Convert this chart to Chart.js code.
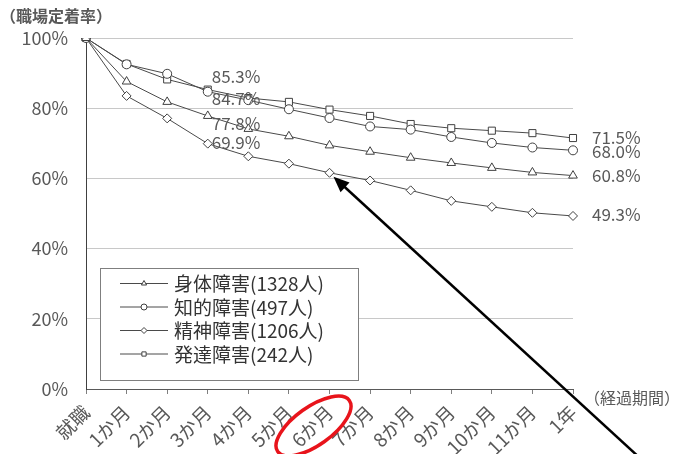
<!DOCTYPE html>
<html>
<head>
<meta charset="utf-8">
<script src="https://cdn.jsdelivr.net/npm/chart.js@4"></script>
<style>
    html, body { margin: 0; padding: 0; background: #fff; }
    #wrap { width: 681px; height: 454px; }
</style>
</head>
<body>
<div id="wrap"><canvas id="retentionChart" width="681" height="454"></canvas></div>
<script>
const periods = ['就職', '1か月', '2か月', '3か月', '4か月', '5か月', '6か月', '7か月', '8か月', '9か月', '10か月', '11か月', '1年'];
const seriesNames = ['身体障害(1328人)', '知的障害(497人)', '精神障害(1206人)', '発達障害(242人)'];
const physical = [100, 87.6, 81.8, 77.8, 74.1, 72.0, 69.4, 67.6, 65.9, 64.4, 63.0, 61.7, 60.8];
const intellectual = [100, 92.5, 89.8, 84.7, 82.3, 79.7, 77.2, 74.8, 73.9, 71.8, 70.1, 68.8, 68.0];
const mental = [100, 83.5, 77.1, 69.9, 66.3, 64.2, 61.6, 59.4, 56.6, 53.6, 51.9, 50.2, 49.3];
const developmental = [100, 92.6, 88.2, 85.3, 82.9, 81.8, 79.6, 77.8, 75.5, 74.3, 73.6, 72.9, 71.5];
const yTicks = [0, 20, 40, 60, 80, 100];
const threeMonthLabels = ['85.3%', '84.7%', '77.8%', '69.9%'];
const yearEndLabels = ['60.8%', '68.0%', '49.3%', '71.5%'];

const textColor = '#595959';
const lineColor = '#4a4a4a';
const jpFont = '"Noto Sans CJK JP", "Noto Sans", sans-serif';

const makeSet = (label, data, style, radius) => ({
    label,
    data,
    borderColor: lineColor,
    borderWidth: 1,
    pointStyle: style,
    pointRadius: radius,
    pointBackgroundColor: '#ffffff',
    pointBorderColor: '#404040',
    pointBorderWidth: 1,
    tension: 0,
});

const datasets = [
    makeSet(seriesNames[0], physical, 'triangle', 5),
    makeSet(seriesNames[1], intellectual, 'circle', 4.5),
    makeSet(seriesNames[2], mental, 'rectRot', 4.5),
    makeSet(seriesNames[3], developmental, 'rect', 5),
];

// labels, legend box, arrow and ellipse drawn on top of the plot
const overlay = {
    id: 'overlay',
    afterDatasetsDraw(chart) {
        const ctx = chart.ctx;
        const xs = chart.scales.x;
        const ys = chart.scales.y;
        const area = chart.chartArea;
        ctx.save();

        // axis titles
        ctx.fillStyle = '#595959';
        ctx.font = 'bold 16px ' + jpFont;
        ctx.textBaseline = 'middle';
        ctx.textAlign = 'left';
        ctx.fillText('（職場定着率）', 0, 16);
        ctx.font = '16px ' + jpFont;
        ctx.fillStyle = textColor;
        ctx.fillText('（経過期間）', 584, 398);

        // 3 month labels
        ctx.font = '17px ' + jpFont;
        ctx.fillStyle = textColor;
        const x3 = xs.getPixelForValue(3) + 4;
        const midOffsets = [-13, 7, 8, -1];
        const midValues = [developmental[3], intellectual[3], physical[3], mental[3]];
        threeMonthLabels.forEach((txt, i) => {
            ctx.fillText(txt, x3, ys.getPixelForValue(midValues[i]) + midOffsets[i]);
        });

        // 1 year labels
        const x12 = xs.getPixelForValue(12) + 19;
        const endValues = [physical[12], intellectual[12], mental[12], developmental[12]];
        const endOffsets = [0, 1, -1, 0];
        yearEndLabels.forEach((txt, i) => {
            ctx.fillText(txt, x12, ys.getPixelForValue(endValues[i]) + endOffsets[i]);
        });

        // legend box
        const bx = 100, by = 268, bw = 258, bh = 112;
        ctx.fillStyle = '#ffffff';
        ctx.fillRect(bx, by, bw, bh);
        ctx.strokeStyle = '#7f7f7f';
        ctx.lineWidth = 1;
        ctx.strokeRect(bx + 0.5, by + 0.5, bw, bh);
        ctx.font = '19px ' + jpFont;
        chart.data.datasets.forEach((ds, i) => {
            const ry = by + 15 + i * 23.5;
            ctx.strokeStyle = lineColor;
            ctx.beginPath();
            ctx.moveTo(bx + 20, ry + 0.5);
            ctx.lineTo(bx + 68, ry + 0.5);
            ctx.stroke();
            ctx.fillStyle = '#ffffff';
            ctx.strokeStyle = '#404040';
            Chart.helpers.drawPoint(ctx, {
                pointStyle: ds.pointStyle,
                radius: 3,
                borderWidth: 1,
            }, bx + 44, ry + 0.5);
            ctx.fillStyle = '#333333';
            ctx.fillText(ds.label, bx + 74, ry + 1);
        });

        // arrow pointing at the 6 month mark of 精神障害
        const tipX = xs.getPixelForValue(6) + 4;
        const tipY = ys.getPixelForValue(mental[6]) + 4;
        const tailX = tipX + 304;
        const tailY = tipY + 279;
        const ang = Math.atan2(tipY - tailY, tipX - tailX);
        ctx.strokeStyle = '#000000';
        ctx.fillStyle = '#000000';
        ctx.lineWidth = 2.5;
        ctx.beginPath();
        ctx.moveTo(tailX, tailY);
        ctx.lineTo(tipX - Math.cos(ang) * 10, tipY - Math.sin(ang) * 10);
        ctx.stroke();
        ctx.beginPath();
        ctx.moveTo(tipX, tipY);
        ctx.lineTo(tipX - Math.cos(ang - 0.4) * 17, tipY - Math.sin(ang - 0.4) * 17);
        ctx.lineTo(tipX - Math.cos(ang + 0.4) * 17, tipY - Math.sin(ang + 0.4) * 17);
        ctx.closePath();
        ctx.fill();

        // red ellipse around the 6 month tick label
        ctx.strokeStyle = '#e8141b';
        ctx.lineWidth = 3.5;
        ctx.beginPath();
        ctx.ellipse(xs.getPixelForValue(6) - 16, area.bottom + 37, 44, 19, -0.62, 0, Math.PI * 2);
        ctx.stroke();

        ctx.restore();
    },
};

new Chart(document.getElementById('retentionChart'), {
    type: 'line',
    data: {
        labels: periods,
        datasets,
    },
    options: {
        responsive: false,
        animation: false,
        layout: {
            padding: { top: 38, right: 108, left: 8, bottom: 0 },
        },
        plugins: {
            legend: { display: false },
            tooltip: { enabled: false },
        },
        scales: {
            x: {
                offset: false,
                grid: {
                    drawOnChartArea: false,
                    color: '#7f7f7f',
                    tickLength: 5,
                },
                border: { color: '#595959' },
                ticks: {
                    color: textColor,
                    font: { family: jpFont, size: 19 },
                    maxRotation: 45,
                    minRotation: 45,
                    autoSkip: false,
                    padding: 7,
                },
                afterFit(scale) {
                    scale.height = 65;
                },
            },
            y: {
                min: 0,
                max: 100,
                afterBuildTicks(scale) {
                    scale.ticks = yTicks.map((v) => ({ value: v }));
                },
                grid: {
                    color: '#c8c8c8',
                    drawTicks: false,
                },
                border: { color: '#404040' },
                ticks: {
                    color: textColor,
                    font: { family: jpFont, size: 18 },
                    padding: 18,
                    callback: (v) => v + '%',
                },
                afterFit(scale) {
                    scale.width = 78;
                },
            },
        },
    },
    plugins: [overlay],
});
</script>
</body>
</html>
